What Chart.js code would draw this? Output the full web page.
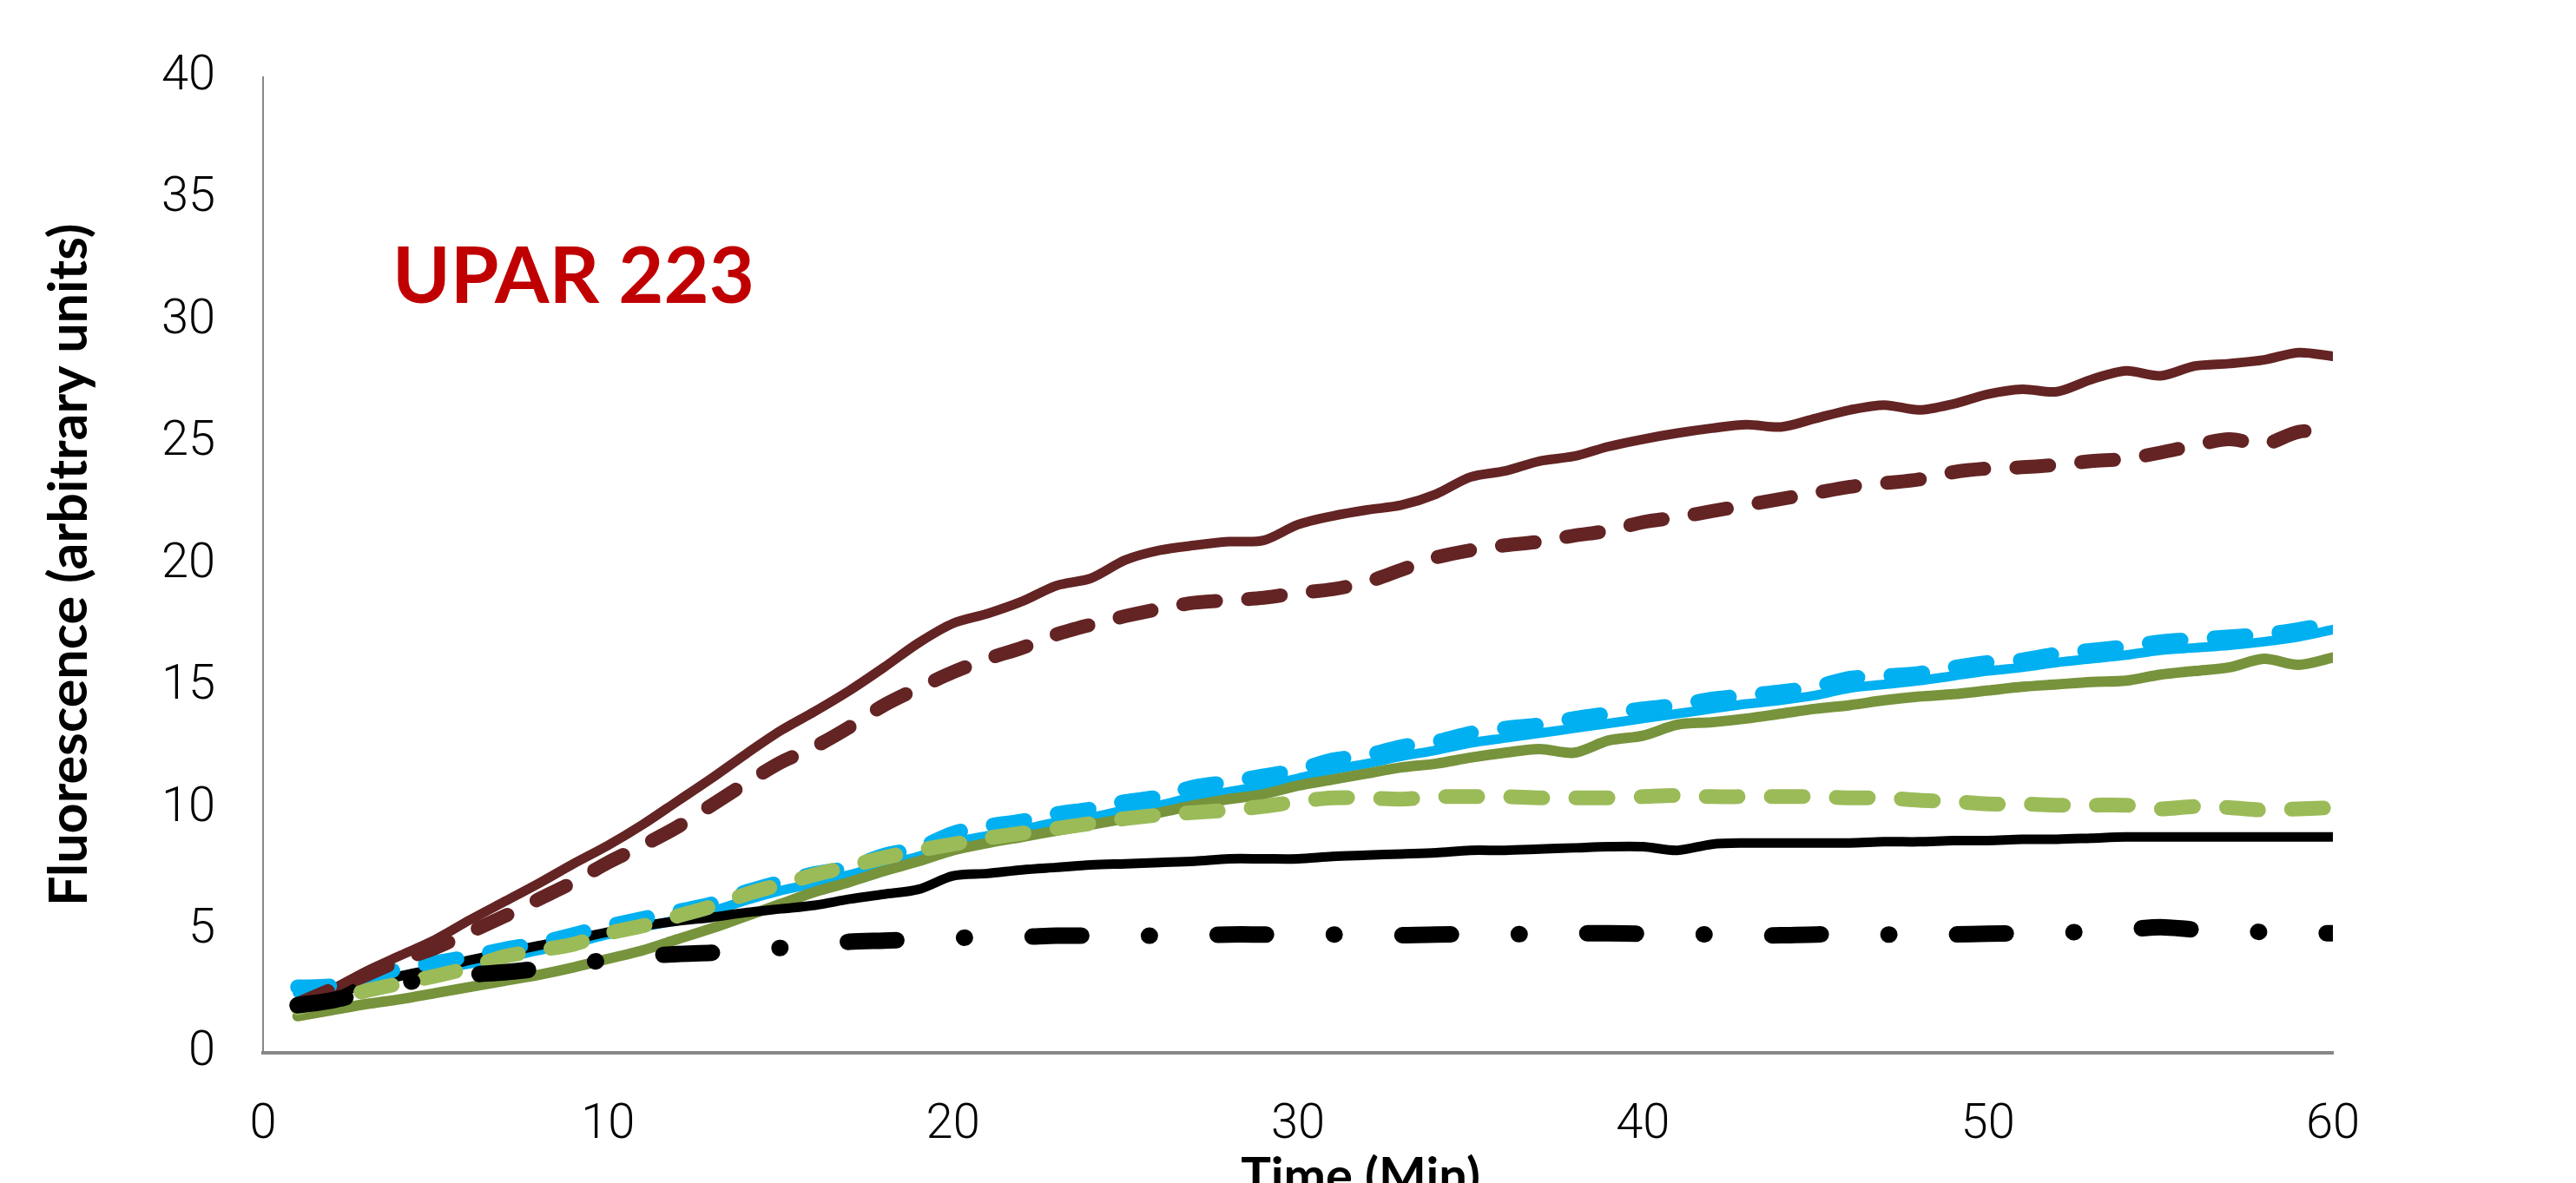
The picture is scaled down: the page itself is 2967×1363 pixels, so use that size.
<!DOCTYPE html>
<html>
<head>
<meta charset="utf-8">
<script src="https://cdn.jsdelivr.net/npm/chart.js@4.4.1/dist/chart.umd.min.js"></script>
<style>
  html, body { margin: 0; padding: 0; background: #ffffff; }
  #wrap { width: 2967px; height: 1363px; position: relative; }
  canvas { display: block; }
</style>
</head>
<body>
<div id="wrap"><canvas id="c" width="2967" height="1363"></canvas></div>
<script>
// ---- data ----
const minutes = [1,2,3,4,5,6,7,8,9,10,11,12,13,14,15,16,17,18,19,20,21,22,23,24,25,26,27,28,29,30,
                 31,32,33,34,35,36,37,38,39,40,41,42,43,44,45,46,47,48,49,50,51,52,53,54,55,56,57,58,59,60];

const brownSolid = [1.95,2.6,3.35,4.0,4.65,5.45,6.2,6.95,7.75,8.5,
  9.35,10.3,11.25,12.25,13.2,14.0,14.85,15.8,16.8,17.6,
  18.0,18.5,19.15,19.45,20.2,20.6,20.8,20.95,21.0,21.65,
  22.0,22.25,22.45,22.9,23.6,23.85,24.25,24.45,24.85,25.15,
  25.4,25.6,25.75,25.65,26.0,26.35,26.55,26.35,26.6,27.0,
  27.2,27.1,27.6,27.95,27.75,28.15,28.25,28.4,28.7,28.55];

const brownDashed = [2.0,2.6,3.2,3.8,4.3,4.95,5.6,6.3,7.0,7.8,
  8.5,9.25,10.15,11.05,11.9,12.55,13.35,14.25,14.95,15.6,
  16.15,16.6,17.15,17.55,17.9,18.2,18.45,18.55,18.65,18.85,
  19.0,19.3,19.8,20.3,20.6,20.8,20.95,21.2,21.4,21.75,
  21.95,22.2,22.45,22.7,22.95,23.2,23.35,23.5,23.8,23.95,
  24.0,24.1,24.25,24.35,24.6,24.9,25.15,24.95,25.45,25.5];

const blueDashed = [2.7,2.75,3.1,3.45,3.7,3.95,4.25,4.5,4.85,5.2,
  5.5,5.8,6.1,6.6,7.0,7.35,7.6,8.1,8.4,9.0,
  9.3,9.5,9.8,10.0,10.3,10.5,10.9,11.1,11.35,11.6,
  12.0,12.2,12.55,12.75,13.1,13.3,13.45,13.7,13.9,14.1,
  14.25,14.5,14.65,14.8,15.0,15.35,15.45,15.55,15.8,16.0,
  16.1,16.35,16.5,16.65,16.85,16.95,17.05,17.15,17.35,17.6];

const blueSolid = [2.45,2.55,2.85,3.15,3.4,3.65,3.9,4.2,4.5,4.85,
  5.15,5.45,5.8,6.25,6.65,6.95,7.3,7.7,8.05,8.6,
  8.9,9.15,9.45,9.65,9.95,10.15,10.5,10.7,10.95,11.25,
  11.6,11.85,12.15,12.4,12.7,12.9,13.1,13.3,13.5,13.7,
  13.9,14.1,14.3,14.45,14.65,14.95,15.1,15.25,15.45,15.65,
  15.8,16.0,16.15,16.3,16.5,16.6,16.7,16.85,17.05,17.35];

const oliveSolid = [1.5,1.75,2.0,2.2,2.45,2.7,2.95,3.2,3.5,3.85,
  4.2,4.65,5.1,5.6,6.1,6.6,7.0,7.45,7.85,8.3,
  8.6,8.85,9.1,9.35,9.6,9.85,10.15,10.4,10.6,10.95,
  11.2,11.45,11.7,11.85,12.1,12.3,12.45,12.3,12.8,13.0,
  13.45,13.55,13.7,13.9,14.1,14.25,14.45,14.6,14.7,14.85,
  15.0,15.1,15.2,15.25,15.5,15.65,15.8,16.15,15.9,16.2];

const greenDashed = [1.85,2.2,2.55,2.85,3.15,3.5,3.95,4.2,4.45,4.9,
  5.2,5.6,6.0,6.5,6.9,7.3,7.65,8.0,8.3,8.55,
  8.8,9.0,9.2,9.4,9.6,9.75,9.85,9.95,10.1,10.3,
  10.45,10.45,10.4,10.5,10.5,10.5,10.45,10.45,10.45,10.5,
  10.55,10.5,10.5,10.5,10.5,10.45,10.45,10.35,10.3,10.2,
  10.2,10.15,10.15,10.15,10.0,10.1,10.05,9.95,10.0,10.05];

const blackSolid = [2.0,2.4,2.8,3.15,3.45,3.8,4.1,4.4,4.65,4.95,
  5.2,5.4,5.55,5.75,5.9,6.05,6.3,6.5,6.7,7.25,
  7.35,7.5,7.6,7.7,7.75,7.8,7.85,7.95,7.95,7.95,
  8.05,8.1,8.15,8.2,8.3,8.3,8.35,8.4,8.45,8.45,
  8.3,8.55,8.6,8.6,8.6,8.6,8.65,8.65,8.7,8.7,
  8.75,8.75,8.8,8.85,8.85,8.85,8.85,8.85,8.85,8.85];

const blackDashDot = [1.95,2.15,2.5,2.85,3.05,3.2,3.3,3.45,3.65,3.8,
  3.95,4.05,4.1,4.2,4.3,4.45,4.55,4.6,4.65,4.7,
  4.75,4.75,4.8,4.8,4.8,4.8,4.82,4.85,4.85,4.85,
  4.85,4.8,4.82,4.85,4.85,4.85,4.88,4.9,4.9,4.88,
  4.85,4.85,4.8,4.82,4.85,4.85,4.85,4.85,4.85,4.88,
  4.9,4.95,4.95,5.05,5.15,5.05,5.0,4.95,4.9,4.9];

const xTicks = [0, 10, 20, 30, 40, 50, 60];
const yTicks = [0, 5, 10, 15, 20, 25, 30, 35, 40];

const panelLabel = 'UPAR 223';
const xTitle = 'Time (Min)';
const yTitle = 'Fluorescence (arbitrary units)';

// ---- build ----
function pts(vals) { return minutes.map((m, i) => ({ x: m, y: vals[i] })); }

function ds(label, vals, color, width, dash) {
  return {
    label: label,
    data: pts(vals),
    borderColor: color,
    backgroundColor: color,
    borderWidth: width,
    borderDash: dash || [],
    borderCapStyle: 'round',
    borderJoinStyle: 'round',
    pointRadius: 0,
    pointHoverRadius: 0,
    tension: 0.3,
    fill: false
  };
}

// dataset 0 is drawn on top
const datasets = [
  ds('Control dash-dot', blackDashDot, '#000000', 19, [56, 78, 1, 78]),
  ds('Brown dashed', brownDashed, '#632423', 16, [38, 37]),
  ds('Green dashed', greenDashed, '#9BBB59', 17, [37, 38]),
  ds('Blue dashed', blueDashed, '#00B0F0', 17, [37, 38]),
  ds('Brown solid', brownSolid, '#632423', 11),
  ds('Black solid', blackSolid, '#000000', 11),
  ds('Olive solid', oliveSolid, '#77933C', 12),
  ds('Blue solid', blueSolid, '#00B0F0', 11)
];

const textPlugin = {
  id: 'extraText',
  afterDraw(chart) {
    const ctx = chart.ctx;
    ctx.save();
    ctx.fillStyle = '#C00000';
    ctx.font = 'bold 90px Lato';
    ctx.textAlign = 'left';
    ctx.textBaseline = 'alphabetic';
    ctx.fillText(panelLabel, 452, 349);
    ctx.fillStyle = '#000000';
    ctx.font = 'bold 58px Lato';
    ctx.textAlign = 'center';
    ctx.fillText(xTitle, 1567, 1375);
    ctx.restore();
  }
};

new Chart(document.getElementById('c'), {
  type: 'line',
  data: { datasets: datasets },
  plugins: [textPlugin],
  options: {
    responsive: false,
    devicePixelRatio: 1,
    animation: false,
    layout: { padding: { left: 0, right: 280, top: 87, bottom: 0 } },
    plugins: { legend: { display: false }, tooltip: { enabled: false }, title: { display: false } },
    scales: {
      x: {
        type: 'linear',
        min: 0, max: 60,
        afterBuildTicks(s) { s.ticks = xTicks.map(v => ({ value: v })); },
        afterFit(s) { s.height = 150; },
        grid: { display: false, drawTicks: false },
        border: { display: true, color: '#878787', width: 4 },
        ticks: { color: '#000000', padding: 50, font: { family: 'Roboto', weight: '300', size: 56 }, maxRotation: 0 },
        title: { display: false, text: xTitle }
      },
      y: {
        type: 'linear',
        min: 0, max: 40,
        afterBuildTicks(s) { s.ticks = yTicks.map(v => ({ value: v })); },
        afterFit(s) { s.width = 303; },
        grid: { display: false, drawTicks: false },
        border: { display: true, color: '#878787', width: 2 },
        ticks: { color: '#000000', padding: 55, font: { family: 'Roboto', weight: '300', size: 56 } },
        title: {
          display: true, text: yTitle, color: '#000000',
          font: { family: 'Lato', weight: 'bold', size: 61 },
          padding: { top: 44, bottom: 0 }
        }
      }
    }
  }
});
</script>
</body>
</html>
